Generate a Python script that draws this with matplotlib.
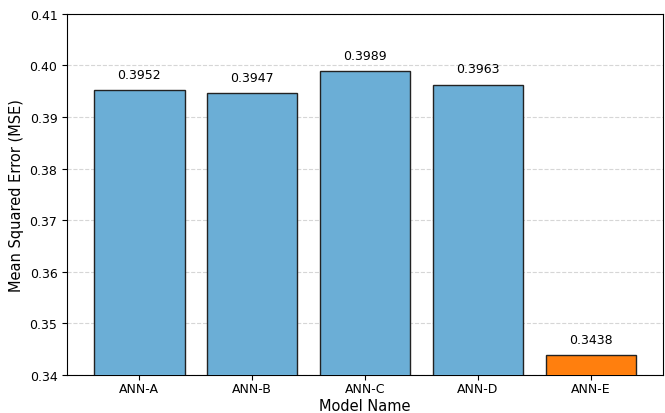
import matplotlib
matplotlib.use("Agg")
import matplotlib.pyplot as plt

models = ["ANN-A", "ANN-B", "ANN-C", "ANN-D", "ANN-E"]
mse = [0.3952, 0.3947, 0.3989, 0.3963, 0.3438]
colors = ["#6baed6", "#6baed6", "#6baed6", "#6baed6", "#ff7f0e"]

fig, ax = plt.subplots(figsize=(6.65, 4.14), dpi=100)
fig.subplots_adjust(left=0.101, right=0.997, top=0.964, bottom=0.092)

bars = ax.bar(models, mse, width=0.8, color=colors, edgecolor="#222222", linewidth=1, zorder=3)
for b, v in zip(bars, mse):
    ax.text(b.get_x() + b.get_width() / 2, v + 0.0018, f"{v:.4f}",
            ha="center", va="bottom", fontsize=9)

ax.set_ylim(0.34, 0.41)
ax.set_yticks([0.34, 0.35, 0.36, 0.37, 0.38, 0.39, 0.40, 0.41])
ax.yaxis.grid(True, linestyle="--", color="#cccccc", alpha=0.8, zorder=0)
ax.set_axisbelow(True)
ax.tick_params(labelsize=9)
ax.tick_params(axis="x", pad=1.5)
ax.set_xlabel("Model Name", fontsize=10.5, labelpad=2)
ax.set_ylabel("Mean Squared Error (MSE)", fontsize=10.5)

fig.savefig("out.png", dpi=100)
